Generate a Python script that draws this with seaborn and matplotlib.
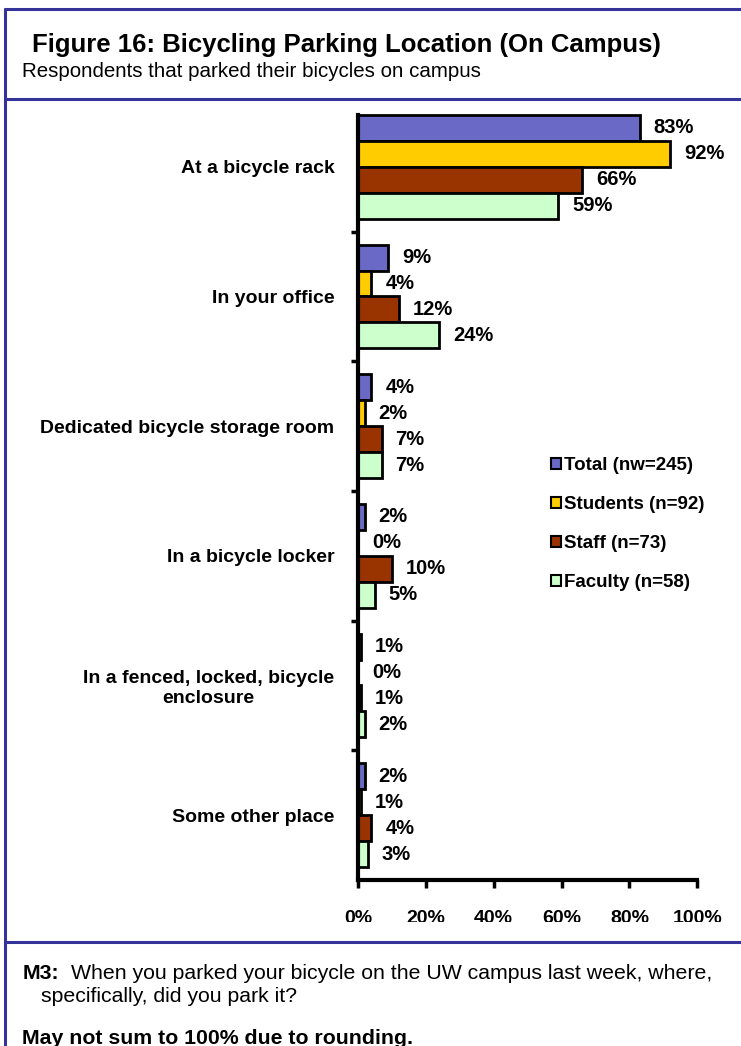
import numpy as np
import matplotlib.pyplot as plt
import pandas as pd
import seaborn as sns
from matplotlib.lines import Line2D
from matplotlib.transforms import Bbox, TransformedBbox

locations = ['At a bicycle rack', 'In your office', 'Dedicated bicycle storage room',
             'In a bicycle locker', 'In a fenced, locked, bicycle\nenclosure', 'Some other place']
groups = ['Total (nw=245)', 'Students (n=92)', 'Staff (n=73)', 'Faculty (n=58)']
total = [83, 9, 4, 2, 1, 2]
students = [92, 4, 2, 0, 0, 1]
staff = [66, 12, 7, 10, 1, 4]
faculty = [59, 24, 7, 5, 2, 3]
colors = ['#6a6ac6', '#ffcc00', '#993300', '#ccffcc']

rows = []
for g, vals in zip(groups, [total, students, staff, faculty]):
    for loc, v in zip(locations, vals):
        rows.append({'location': loc, 'group': g, 'pct': v})
df = pd.DataFrame(rows)

sns.set_style('white')
plt.rcParams['font.family'] = ['Liberation Sans', 'DejaVu Sans']
plt.rcParams['text.color'] = 'black'
plt.rcParams['xtick.color'] = 'black'
plt.rcParams['ytick.color'] = 'black'

fig = plt.figure(figsize=(7.41, 10.46), dpi=100)
ax = fig.add_axes([0.483, 0.1587, 0.458, 0.7438])

sns.barplot(data=df, y='location', x='pct', hue='group', palette=colors, saturation=1,
            orient='h', edgecolor='black', linewidth=2, width=0.8, ax=ax)

for cont in ax.containers:
    ax.bar_label(cont, fmt='%d%%', padding=10, fontsize=14.5, fontweight='bold')

ax.set_xlim(0, 100)
ax.set_ylim(len(locations) - 0.5, -0.5)
ax.set_xticks([0, 20, 40, 60, 80, 100])
ax.set_xticklabels(['0%', '20%', '40%', '60%', '80%', '100%'], fontsize=14, fontweight='bold')
ax.set_yticks(range(len(locations)))
ax.set_yticklabels(locations, fontsize=14, fontweight='bold', multialignment='center')
ax.set_yticks(np.arange(0.5, len(locations) - 1, 1), minor=True)
ax.tick_params(axis='y', which='major', length=0, pad=17)
ax.tick_params(axis='y', which='minor', length=5, width=2.5, color='black', left=True)
ax.tick_params(axis='x', length=6, width=2.5, color='black', bottom=True, pad=15.5, direction='out')
ax.set_xlabel('')
ax.set_ylabel('')
for s in ['top', 'right']:
    ax.spines[s].set_visible(False)
for s in ['left', 'bottom']:
    ax.spines[s].set_color('black')
    ax.spines[s].set_linewidth(3)
ax.spines['left'].set_bounds(len(locations) - 0.5, -0.4)

# tick labels are cut off at the bottom in the original
clip = TransformedBbox(Bbox([[0, 0.1185], [1, 1]]), fig.transFigure)
for lbl in ax.get_xticklabels():
    lbl.set_clip_box(clip)
    lbl.set_clip_on(True)

leg = ax.legend(loc='upper left', bbox_to_anchor=(0.52, 0.565), frameon=False,
                prop={'weight': 'bold', 'size': 13.5}, labelspacing=1.17,
                handlelength=0.5, handleheight=0.5, handletextpad=0.2)
for h in leg.legend_handles:
    h.set_linewidth(1.5)

# frame lines
fc = '#333399'
lw = 2.2
fig.add_artist(Line2D([0.007, 0.007], [0, 0.991], color=fc, lw=lw))
fig.add_artist(Line2D([0.007, 1], [0.991, 0.991], color=fc, lw=lw))
fig.add_artist(Line2D([0.007, 1], [0.905, 0.905], color=fc, lw=lw))
fig.add_artist(Line2D([0.007, 1], [0.0995, 0.0995], color=fc, lw=lw))

fig.text(0.043, 0.9503, 'Figure 16: Bicycling Parking Location (On Campus)',
         fontsize=18.5, fontweight='bold', va='baseline')
fig.text(0.030, 0.9264, 'Respondents that parked their bicycles on campus', fontsize=14.8,
         va='baseline')

fig.text(0.030, 0.0641, 'M3:', fontsize=15.3, fontweight='bold', va='baseline')
fig.text(0.096, 0.0641, 'When you parked your bicycle on the UW campus last week, where,',
         fontsize=15.3, va='baseline')
fig.text(0.056, 0.0421, 'specifically, did you park it?', fontsize=15.3, va='baseline')
fig.text(0.030, 0.002, 'May not sum to 100% due to rounding.', fontsize=15.3,
         fontweight='bold', va='baseline')

fig.savefig('out.png', dpi=100)
